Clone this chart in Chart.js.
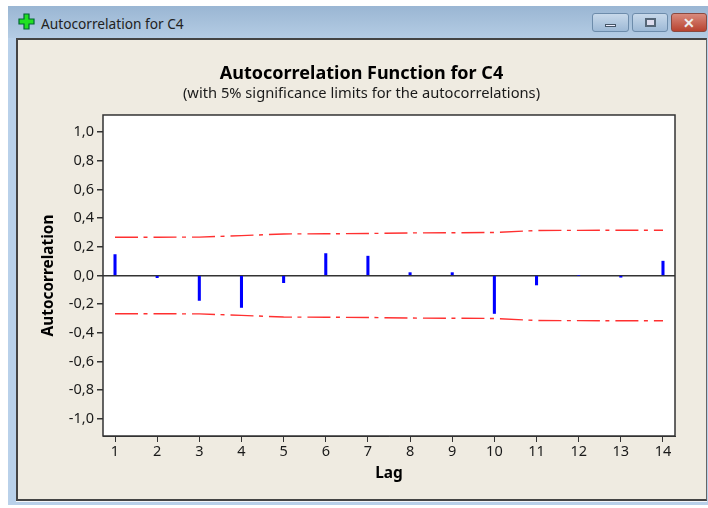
<!DOCTYPE html>
<html><head><meta charset="utf-8">
<script src="https://cdn.jsdelivr.net/npm/chart.js@4"></script>
<style>
html,body{margin:0;padding:0;background:#fff;width:708px;height:508px;overflow:hidden}
#win{position:absolute;left:8px;top:6px;width:700px;height:499px;background:#b9d1ea}
#bar{position:absolute;left:0;top:0;width:700px;height:32px;background:linear-gradient(#9ab6d3,#b4cce4)}
#cap{position:absolute;left:33px;top:8px;font:13.7px "Noto Sans",sans-serif;color:#222;white-space:nowrap}
#ico{position:absolute;left:10px;top:7px;width:17px;height:17px}
.btn{position:absolute;top:7px;height:19px;border:1px solid #6d8cab;border-radius:3px;box-sizing:border-box;background:linear-gradient(#c8d9ea,#9db9d6)}
#panel{position:absolute;left:16px;top:38px;width:691px;height:462px;box-sizing:border-box;background:#efebe1}
#edge{position:absolute;left:16px;top:38px;width:691px;height:463px;box-sizing:border-box;border:2px solid #444;border-right:1px solid #666;pointer-events:none}
#sill{position:absolute;left:16px;top:501px;width:691px;height:1px;background:#f4f6f8}
canvas{display:block}
</style></head><body>
<div id="win">
<div id="bar"></div>
<svg id="ico" viewBox="0 0 17 17"><path d="M6 1h5v5h5v5h-5v5H6v-5H1V6h5z" fill="#22e022" stroke="#063" stroke-width="1.2"/></svg>
<div id="cap">Autocorrelation for C4</div>
<div class="btn" style="left:584px;width:37px"><div style="position:absolute;left:12px;top:10px;width:11px;height:3px;background:#eef;border:1px solid #456;box-sizing:border-box"></div></div>
<div class="btn" style="left:624px;width:36px"><div style="position:absolute;left:12px;top:4px;width:11px;height:9px;border:2px solid #567;box-sizing:border-box;background:#dde"></div></div>
<div class="btn" style="left:663px;width:36px;background:linear-gradient(#d98a7c,#b8432f);border-color:#8a4a40;color:#eee;font:bold 14px/17px 'Noto Sans';text-align:center">✕</div>
</div>
<div id="panel"><canvas id="c" width="691" height="462"></canvas></div>
<div id="edge"></div>
<div id="sill"></div>
<script>
const lags = [1,2,3,4,5,6,7,8,9,10,11,12,13,14];
const acf = [0.146,-0.015,-0.174,-0.223,-0.05,0.153,0.135,0.02,0.02,-0.265,-0.066,0,-0.012,0.10];
const upperLimit = [0.267,0.267,0.268,0.278,0.29,0.291,0.293,0.297,0.298,0.30,0.314,0.315,0.316,0.316];
const lowerLimit = [-0.267,-0.267,-0.268,-0.278,-0.29,-0.291,-0.293,-0.297,-0.298,-0.30,-0.314,-0.315,-0.316,-0.316];
const yTicks = [-1,-0.8,-0.6,-0.4,-0.2,0,0.2,0.4,0.6,0.8,1];
const FONT = '"Noto Sans", sans-serif';
const TEXT = '#1a1a1a';
const pts = arr => arr.map((v,i)=>({x:lags[i],y:v}));
const limit = arr => ({type:'line',data:pts(arr),borderColor:'#ff3030',borderWidth:1.4,borderDash:[23,5.5,4,6],pointRadius:0,tension:0,fill:false,order:2});
const frame = {
  id:'frame',
  beforeDraw(ch){const {ctx,chartArea:a}=ch;ctx.save();ctx.fillStyle='#fff';ctx.fillRect(a.left,a.top,a.right-a.left,a.bottom-a.top);ctx.restore();},
  afterDraw(ch){const {ctx,chartArea:a}=ch;ctx.save();ctx.strokeStyle='#333';ctx.lineWidth=1.5;ctx.strokeRect(a.left,a.top,a.right-a.left,a.bottom-a.top);ctx.restore();}
};
Chart.defaults.animation=false;
new Chart(document.getElementById('c'),{
  type:'bar',
  plugins:[frame],
  data:{datasets:[
    {type:'bar',data:pts(acf),backgroundColor:'#0000ff',barThickness:2.4,order:1},
    limit(upperLimit),limit(lowerLimit)
  ]},
  options:{
    responsive:false,animation:false,
    layout:{padding:{left:0,top:25,right:0,bottom:0}},
    plugins:{
      legend:{display:false},tooltip:{enabled:false},
      title:{display:true,text:'Autocorrelation Function for C4',color:'#000',font:{family:FONT,size:18,weight:'bold',lineHeight:1.111},padding:{top:1,bottom:0}},
      subtitle:{display:true,text:'(with 5% significance limits for the autocorrelations)',color:TEXT,font:{family:FONT,size:14.7,lineHeight:1.224},padding:{top:1,bottom:12}}
    },
    scales:{
      x:{type:'linear',offset:false,min:0.715,max:14.285,
        afterBuildTicks:s=>{s.ticks=lags.map(v=>({value:v}));},
        afterFit:s=>{s.height=64;},
        grid:{offset:false,drawOnChartArea:false,drawTicks:true,tickLength:6,tickColor:'#333',color:'#333'},
        border:{color:'#333'},
        ticks:{autoSkip:false,maxRotation:0,color:TEXT,font:{family:FONT,size:14.5},padding:1,callback:v=>String(v)},
        title:{display:true,text:'Lag',color:'#000',font:{family:FONT,size:15.4,weight:'bold'},padding:{top:0,bottom:17}}
      },
      y:{type:'linear',min:-1.12,max:1.12,
        afterBuildTicks:s=>{s.ticks=yTicks.map(v=>({value:v}));},
        afterFit:s=>{s.width=87;},
        grid:{drawTicks:true,tickLength:6,tickColor:'#333',color:c=>c.tick&&c.tick.value===0?'#333':'rgba(0,0,0,0)',lineWidth:1.5},
        border:{display:false},
        ticks:{autoSkip:false,color:TEXT,font:{family:FONT,size:14.5},padding:3,callback:v=>v.toFixed(1).replace('.',',')},
        title:{display:true,text:'Autocorrelation',color:'#000',font:{family:FONT,size:15.4,weight:'bold'},padding:{top:23,bottom:0}}
      },
      rightMargin:{type:'linear',position:'right',display:true,min:-1.12,max:1.12,
        afterBuildTicks:s=>{s.ticks=[];},
        afterFit:s=>{s.width=32;},
        grid:{display:false},border:{display:false},ticks:{display:false}
      }
    }
  }
});
</script>
</body></html>
